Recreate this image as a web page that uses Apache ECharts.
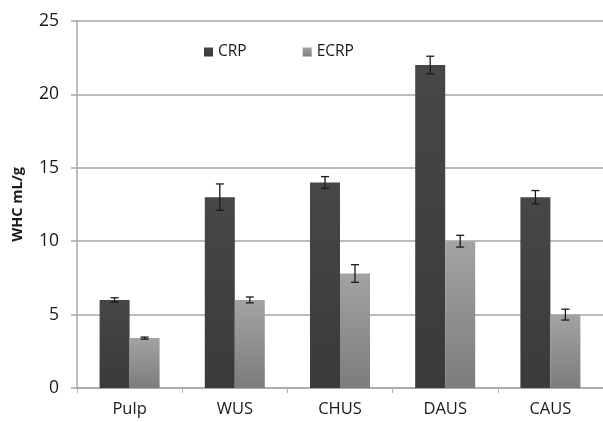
<!DOCTYPE html>
<html>
<head>
<meta charset="utf-8">
<script src="https://cdn.jsdelivr.net/npm/echarts@6/dist/echarts.min.js"></script>
<style>
  html, body { margin: 0; padding: 0; background: #fff; }
  #chart { width: 603px; height: 422px; }
</style>
</head>
<body>
<div id="chart"></div>
<script>
// Water holding capacity of the samples, mL/g
const categories = ['Pulp', 'WUS', 'CHUS', 'DAUS', 'CAUS'];
const crpValues = [6.0, 13.0, 14.0, 22.0, 13.0];
const crpErrors = [0.15, 0.9, 0.4, 0.6, 0.45];
const ecrpValues = [3.4, 6.0, 7.8, 10.0, 5.0];
const ecrpErrors = [0.07, 0.2, 0.6, 0.4, 0.37];
const yTicks = [0, 5, 10, 15, 20, 25];

const BAR_W = 30;
const FONT = '"Open Sans", Lato, sans-serif';

function errorSeries(values, errors, shift) {
  return {
    type: 'custom',
    silent: true,
    z: 5,
    data: values.map((v, i) => [i, v - errors[i], v + errors[i]]),
    renderItem: function (params, api) {
      const lo = api.coord([api.value(0), api.value(1)]);
      const hi = api.coord([api.value(0), api.value(2)]);
      const x = lo[0] + shift;
      const cap = 4;
      const style = { stroke: '#1a1a1a', lineWidth: 1.3 };
      return {
        type: 'group',
        children: [
          { type: 'line', shape: { x1: x, y1: lo[1], x2: x, y2: hi[1] }, style: style },
          { type: 'line', shape: { x1: x - cap, y1: hi[1], x2: x + cap, y2: hi[1] }, style: style },
          { type: 'line', shape: { x1: x - cap, y1: lo[1], x2: x + cap, y2: lo[1] }, style: style }
        ]
      };
    }
  };
}

const chart = echarts.init(document.getElementById('chart'), null, { renderer: 'canvas' });
chart.setOption({
  animation: false,
  backgroundColor: '#ffffff',
  grid: { left: 77, top: 21, width: 530, height: 367, containLabel: false },
  legend: {
    data: ['CRP', 'ECRP'],
    left: 199,
    top: 39,
    itemWidth: 9,
    itemHeight: 9,
    itemGap: 56,
    icon: 'rect',
    textStyle: { fontFamily: FONT, fontSize: 15.5, color: '#1a1a1a' }
  },
  xAxis: {
    type: 'category',
    data: categories,
    axisLine: { show: true, lineStyle: { color: '#a6a6a6', width: 1.5 } },
    axisTick: { show: true, length: 5, lineStyle: { color: '#b0b0b0' } },
    axisLabel: { fontFamily: FONT, fontSize: 16.5, color: '#1a1a1a', margin: 13 }
  },
  yAxis: {
    type: 'value',
    min: yTicks[0],
    max: yTicks[yTicks.length - 1],
    interval: 5,
    axisLine: { show: true, lineStyle: { color: '#a6a6a6', width: 1.5 } },
    axisTick: { show: true, length: 6, lineStyle: { color: '#a6a6a6', width: 1.5 } },
    splitLine: { show: true, lineStyle: { color: '#a6a6a6', width: 1.5 } },
    axisLabel: { fontFamily: FONT, fontSize: 17.5, color: '#1a1a1a', margin: 18 },
    name: 'WHC mL/g',
    nameLocation: 'middle',
    nameGap: 52,
    nameTextStyle: { fontFamily: FONT, fontSize: 14.5, fontWeight: 'bold', color: '#1a1a1a' }
  },
  series: [
    {
      name: 'CRP',
      type: 'bar',
      data: crpValues,
      barWidth: BAR_W,
      barGap: '0%',
      itemStyle: {
        color: new echarts.graphic.LinearGradient(0, 0, 0, 1, [
          { offset: 0, color: '#474747' },
          { offset: 1, color: '#3a3a3a' }
        ])
      }
    },
    {
      name: 'ECRP',
      type: 'bar',
      data: ecrpValues,
      barWidth: BAR_W,
      barGap: '0%',
      itemStyle: {
        color: new echarts.graphic.LinearGradient(0, 0, 0, 1, [
          { offset: 0, color: '#a3a3a3' },
          { offset: 1, color: '#7c7c7c' }
        ])
      }
    },
    errorSeries(crpValues, crpErrors, -BAR_W / 2),
    errorSeries(ecrpValues, ecrpErrors, BAR_W / 2)
  ]
});
</script>
</body>
</html>
